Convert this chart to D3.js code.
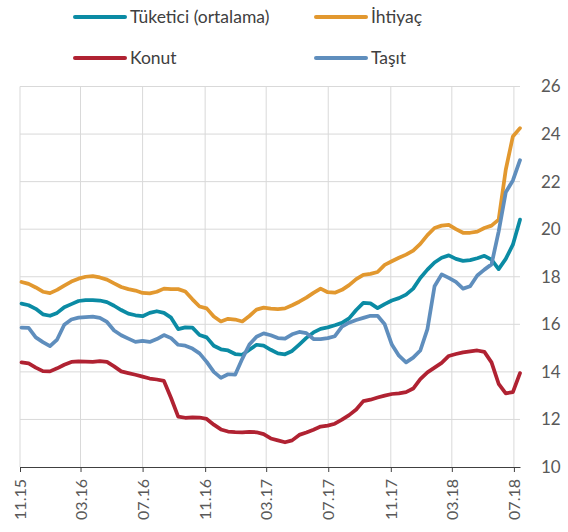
<!DOCTYPE html>
<html>
<head>
<meta charset="utf-8">
<script src="https://cdn.jsdelivr.net/npm/d3@7"></script>
<style>
  body { margin: 0; background: #fff; }
  svg { display: block; font-family: Lato, "Open Sans", sans-serif; }
</style>
</head>
<body>
<svg></svg>
<script>
const size = {w: 568, h: 532};
const plot = {l: 20, r: 520, t: 86.5, b: 467};

// two-week points, first one on 06.11.2015
const firstDate = new Date(2015, 10, 6);
const stepDays = 14;

const tuketici = [16.87, 16.8, 16.65, 16.42, 16.36, 16.48, 16.72, 16.85, 16.98, 17.02,
    17.02, 17.0, 16.93, 16.78, 16.6, 16.45, 16.38, 16.34, 16.48, 16.55,
    16.48, 16.28, 15.8, 15.87, 15.86, 15.55, 15.45, 15.1, 14.95, 14.9,
    14.75, 14.72, 14.93, 15.14, 15.1, 14.93, 14.78, 14.74, 14.88, 15.15,
    15.43, 15.66, 15.81, 15.87, 15.96, 16.06, 16.25, 16.6, 16.9, 16.88,
    16.68, 16.85, 17.0, 17.1, 17.25, 17.5, 17.95, 18.3, 18.6, 18.8,
    18.9, 18.75, 18.67, 18.7, 18.78, 18.88, 18.72, 18.32, 18.75, 19.35, 20.4];

const ihtiyac = [17.78, 17.7, 17.55, 17.37, 17.31, 17.45, 17.63, 17.8, 17.92, 18.0,
    18.03, 17.97, 17.88, 17.72, 17.57, 17.48, 17.42, 17.32, 17.3, 17.37,
    17.5, 17.48, 17.48, 17.38, 17.05, 16.75, 16.67, 16.33, 16.12, 16.23,
    16.2, 16.12, 16.35, 16.62, 16.7, 16.66, 16.64, 16.67, 16.8, 16.95,
    17.12, 17.32, 17.5, 17.35, 17.33, 17.45, 17.65, 17.9, 18.08, 18.12,
    18.2, 18.5, 18.65, 18.8, 18.93, 19.1, 19.38, 19.75, 20.05, 20.15,
    20.18, 20.0, 19.85, 19.85, 19.9, 20.05, 20.15, 20.4, 22.5, 23.9, 24.25];

const konut = [14.4, 14.36, 14.18, 14.03, 14.02, 14.15, 14.3, 14.42, 14.44, 14.43,
    14.42, 14.45, 14.42, 14.23, 14.02, 13.95, 13.88, 13.8, 13.72, 13.68,
    13.62, 12.9, 12.12, 12.07, 12.09, 12.08, 12.02, 11.78, 11.58, 11.49,
    11.47, 11.46, 11.48, 11.46, 11.38, 11.2, 11.12, 11.04, 11.12, 11.35,
    11.45, 11.57, 11.7, 11.74, 11.82, 11.99, 12.18, 12.42, 12.77, 12.83,
    12.92, 13.0, 13.07, 13.1, 13.15, 13.3, 13.7, 13.98, 14.18, 14.38,
    14.67, 14.75, 14.82, 14.86, 14.9, 14.84, 14.4, 13.5, 13.1, 13.15, 13.95];

const tasit = [15.86, 15.85, 15.45, 15.25, 15.08, 15.36, 15.98, 16.2, 16.28, 16.3,
    16.32, 16.27, 16.1, 15.74, 15.54, 15.4, 15.26, 15.3, 15.26, 15.38,
    15.55, 15.42, 15.14, 15.1, 14.98, 14.78, 14.42, 14.0, 13.75, 13.9,
    13.88, 14.55, 15.15, 15.48, 15.62, 15.54, 15.42, 15.4, 15.58, 15.68,
    15.63, 15.38, 15.38, 15.42, 15.5, 15.9, 16.07, 16.18, 16.27, 16.36,
    16.36, 16.0, 15.15, 14.68, 14.4, 14.6, 14.9, 15.8, 17.6, 18.1,
    17.95, 17.78, 17.5, 17.6, 18.05, 18.3, 18.52, 19.9, 21.55, 22.05, 22.9];

const tickLabels = ['11.15', '03.16', '07.16', '11.16', '03.17', '07.17', '11.17', '03.18', '07.18'];
const yTicks = [10, 12, 14, 16, 18, 20, 22, 24, 26];

const series = [
    {name: 'Tüketici (ortalama)', values: tuketici, color: '#0b8ba4'},
    {name: 'İhtiyaç', values: ihtiyac, color: '#e2982f'},
    {name: 'Konut', values: konut, color: '#b02232'},
    {name: 'Taşıt', values: tasit, color: '#5f8ebd'}
];

const svg = d3.select('svg')
    .attr('width', size.w)
    .attr('height', size.h);

const dates = tuketici.map((d, i) => d3.timeDay.offset(firstDate, i * stepDays));
const domainStart = new Date(2015, 10, 3);

const x = d3.scaleTime()
    .domain([domainStart, dates[dates.length - 1]])
    .range([plot.l, plot.r]);

const y = d3.scaleLinear()
    .domain([10, 26])
    .range([plot.b, plot.t]);

const parseTick = d3.timeParse('%m.%y');
const tickDates = tickLabels.map(t => {
    let d = parseTick(t);
    return d < domainStart ? domainStart : d;
});

// grid
svg.append('g')
    .selectAll('line')
    .data(yTicks.slice(1))
    .join('line')
    .attr('x1', plot.l).attr('x2', plot.r)
    .attr('y1', d => y(d)).attr('y2', d => y(d))
    .attr('stroke', '#d9d9d9').attr('stroke-width', 1);

svg.append('g')
    .selectAll('line')
    .data(tickDates)
    .join('line')
    .attr('x1', d => x(d)).attr('x2', d => x(d))
    .attr('y1', plot.t).attr('y2', plot.b)
    .attr('stroke', '#d9d9d9').attr('stroke-width', 1);

// x axis
let xAxis = svg.append('g')
    .attr('transform', 'translate(0,' + plot.b + ')')
    .call(d3.axisBottom(x)
        .tickValues(tickDates)
        .tickFormat((d, i) => tickLabels[i])
        .tickSize(5)
        .tickSizeOuter(0));
xAxis.select('.domain').attr('stroke', '#404040');
xAxis.selectAll('.tick line').attr('stroke', '#404040');
xAxis.selectAll('.tick text')
    .attr('font-family', 'Lato, sans-serif')
    .attr('font-size', 16)
    .attr('fill', '#595959')
    .attr('transform', 'rotate(-90)')
    .attr('text-anchor', 'end')
    .attr('x', -12)
    .attr('y', 0)
    .attr('dy', '0.35em');

// y labels on the right
svg.append('g')
    .selectAll('text')
    .data(yTicks)
    .join('text')
    .attr('x', 541)
    .attr('y', d => y(d))
    .attr('dy', '0.35em')
    .attr('font-size', 17)
    .attr('fill', '#595959')
    .text(d => d);

// lines
const line = d3.line()
    .x((d, i) => x(dates[i]))
    .y(d => y(d));

svg.append('g')
    .selectAll('path')
    .data(series)
    .join('path')
    .attr('d', d => line(d.values))
    .attr('fill', 'none')
    .attr('stroke', d => d.color)
    .attr('stroke-width', 3.75)
    .attr('stroke-linejoin', 'round')
    .attr('stroke-linecap', 'round');

// legend
const legendPos = [[75, 17], [316, 17], [75, 58], [316, 58]];
let legend = svg.append('g')
    .selectAll('g')
    .data(series)
    .join('g')
    .attr('transform', (d, i) => 'translate(' + legendPos[i][0] + ',' + legendPos[i][1] + ')');

legend.append('line')
    .attr('x1', 0).attr('x2', 50)
    .attr('stroke', d => d.color)
    .attr('stroke-width', 4)
    .attr('stroke-linecap', 'round');

legend.append('text')
    .attr('x', 55)
    .attr('dy', '0.35em')
    .attr('font-size', 17.5)
    .attr('fill', '#404040')
    .text(d => d.name);
</script>
</body>
</html>
